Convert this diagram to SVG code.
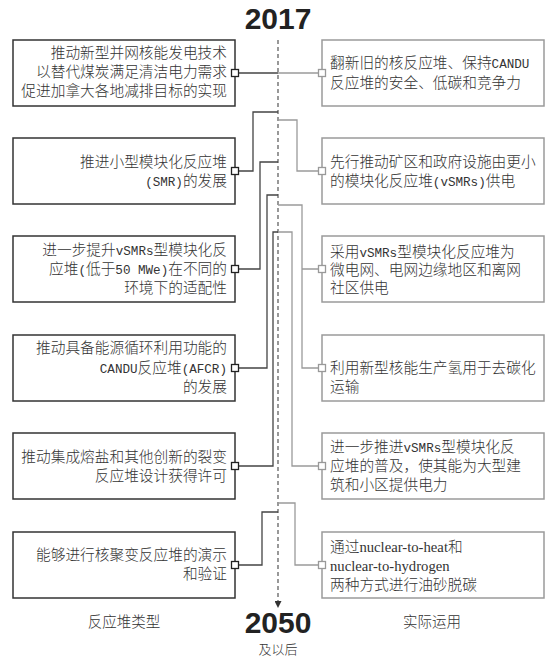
<svg xmlns="http://www.w3.org/2000/svg" width="556" height="660" viewBox="0 0 556 660">
<defs>
<style>
.lbox{fill:#fff;stroke:#333;stroke-width:1.5}
.rbox{fill:#fff;stroke:#9a9a9a;stroke-width:1.5}
.t{font-family:"Liberation Serif","Noto Sans CJK SC",serif;font-size:14.7px;fill:#333;font-weight:300}
.lt{text-anchor:end}
.lat{font-family:"Liberation Mono",monospace;font-size:12.6px;font-weight:normal}
.cl{fill:none;stroke:#444;stroke-width:1.3}
.cr{fill:none;stroke:#9a9a9a;stroke-width:1.3}
.sql{fill:#fff;stroke:#222;stroke-width:1.3}
.sqr{fill:#fff;stroke:#999;stroke-width:1.3}
.axis{stroke:#555;stroke-width:1.2;stroke-dasharray:4 3;fill:none}
.year{font-family:"Liberation Sans",Arial,sans-serif;font-weight:bold;font-size:30px;fill:#222;text-anchor:middle}
.cap{font-family:"Noto Sans CJK SC",sans-serif;font-size:14.5px;fill:#333;text-anchor:middle;font-weight:300}
</style>
<marker id="arr" viewBox="0 0 7 7" markerWidth="7" markerHeight="7" refX="1" refY="3.5" orient="auto" markerUnits="userSpaceOnUse">
<path d="M0,0 L7,3.5 L0,7 z" fill="#333"/>
</marker>
</defs>
<rect width="556" height="660" fill="#fff"/>

<g id="timeline">
<text class="year" x="278" y="29">2017</text>
<line class="axis" x1="278" y1="40" x2="278" y2="602" marker-end="url(#arr)"/>
<text class="year" x="278" y="633">2050</text>
<text class="cap" x="278" y="654" style="font-size:13px">及以后</text>
<text class="cap" x="124" y="627">反应堆类型</text>
<text class="cap" x="432" y="627">实际运用</text>
</g>

<g id="connectors">
<path class="cl" d="M238.5 73 H278"/>
<path class="cl" d="M278 112 H253 V171 H238.5"/>
<path class="cl" d="M278 162 H260 V269 H238.5"/>
<path class="cl" d="M278 195 H267 V368 H238.5"/>
<path class="cl" d="M278 232 H273 V466 H238.5"/>
<path class="cl" d="M278 512 H262 V565 H238.5"/>
<path class="cr" d="M278 73 H318.5"/>
<path class="cr" d="M278 120 H297 V171 H318.5"/>
<path class="cr" d="M278 205 H302 V368 H318.5 M302 269 H318.5"/>
<path class="cr" d="M278 232 H292 V466 H318.5"/>
<path class="cr" d="M278 503 H295 V565 H318.5"/>
</g>

<g id="L1">
<rect class="lbox" x="13" y="40" width="222" height="66"/>
<text class="t lt" x="227" y="58">推动新型并网核能发电技术</text>
<text class="t lt" x="227" y="77">以替代煤炭满足清洁电力需求</text>
<text class="t lt" x="227" y="96">促进加拿大各地减排目标的实现</text>
<rect class="sql" x="231.5" y="69.5" width="7" height="7"/>
</g>
<g id="L2">
<rect class="lbox" x="13" y="138" width="222" height="66"/>
<text class="t lt" x="227" y="167">推进小型模块化反应堆</text>
<text class="t lt" x="227" y="186"><tspan class="lat">(SMR)</tspan>的发展</text>
<rect class="sql" x="231.5" y="167.5" width="7" height="7"/>
</g>
<g id="L3">
<rect class="lbox" x="13" y="236" width="222" height="66"/>
<text class="t lt" x="227" y="255">进一步提升<tspan class="lat">vSMRs</tspan>型模块化反</text>
<text class="t lt" x="227" y="274">应堆<tspan class="lat">(</tspan>低于<tspan class="lat">50 MWe)</tspan>在不同的</text>
<text class="t lt" x="227" y="293">环境下的适配性</text>
<rect class="sql" x="231.5" y="265.5" width="7" height="7"/>
</g>
<g id="L4">
<rect class="lbox" x="13" y="335" width="222" height="66"/>
<text class="t lt" x="227" y="353">推动具备能源循环利用功能的</text>
<text class="t lt" x="227" y="373"><tspan class="lat">CANDU</tspan>反应堆<tspan class="lat">(AFCR)</tspan></text>
<text class="t lt" x="227" y="392">的发展</text>
<rect class="sql" x="231.5" y="364.5" width="7" height="7"/>
</g>
<g id="L5">
<rect class="lbox" x="13" y="433" width="222" height="66"/>
<text class="t lt" x="227" y="462">推动集成熔盐和其他创新的裂变</text>
<text class="t lt" x="227" y="481">反应堆设计获得许可</text>
<rect class="sql" x="231.5" y="462.5" width="7" height="7"/>
</g>
<g id="L6">
<rect class="lbox" x="13" y="532" width="222" height="66"/>
<text class="t lt" x="227" y="560">能够进行核聚变反应堆的演示</text>
<text class="t lt" x="227" y="579">和验证</text>
<rect class="sql" x="231.5" y="561.5" width="7" height="7"/>
</g>

<g id="R1">
<rect class="rbox" x="322" y="40" width="222" height="66"/>
<text class="t" x="330" y="68">翻新旧的核反应堆、保持<tspan class="lat">CANDU</tspan></text>
<text class="t" x="330" y="88">反应堆的安全、低碳和竞争力</text>
<rect class="sqr" x="318.5" y="69.5" width="7" height="7"/>
</g>
<g id="R2">
<rect class="rbox" x="322" y="138" width="222" height="66"/>
<text class="t" x="330" y="167">先行推动矿区和政府设施由更小</text>
<text class="t" x="330" y="186">的模块化反应堆<tspan class="lat">(vSMRs)</tspan>供电</text>
<rect class="sqr" x="318.5" y="167.5" width="7" height="7"/>
</g>
<g id="R3">
<rect class="rbox" x="322" y="236" width="222" height="66"/>
<text class="t" x="330" y="257">采用<tspan class="lat">vSMRs</tspan>型模块化反应堆为</text>
<text class="t" x="330" y="275">微电网、电网边缘地区和离网</text>
<text class="t" x="330" y="293">社区供电</text>
<rect class="sqr" x="318.5" y="265.5" width="7" height="7"/>
</g>
<g id="R4">
<rect class="rbox" x="322" y="335" width="222" height="66"/>
<text class="t" x="330" y="373">利用新型核能生产氢用于去碳化</text>
<text class="t" x="330" y="392">运输</text>
<rect class="sqr" x="318.5" y="364.5" width="7" height="7"/>
</g>
<g id="R5">
<rect class="rbox" x="322" y="433" width="222" height="66"/>
<text class="t" x="330" y="452">进一步推进<tspan class="lat">vSMRs</tspan>型模块化反</text>
<text class="t" x="330" y="471">应堆的普及，使其能为大型建</text>
<text class="t" x="330" y="490">筑和小区提供电力</text>
<rect class="sqr" x="318.5" y="462.5" width="7" height="7"/>
</g>
<g id="R6">
<rect class="rbox" x="322" y="532" width="222" height="66"/>
<text class="t" x="330" y="552">通过nuclear-to-heat和</text>
<text class="t" x="330" y="571">nuclear-to-hydrogen</text>
<text class="t" x="330" y="590">两种方式进行油砂脱碳</text>
<rect class="sqr" x="318.5" y="561.5" width="7" height="7"/>
</g>
</svg>
